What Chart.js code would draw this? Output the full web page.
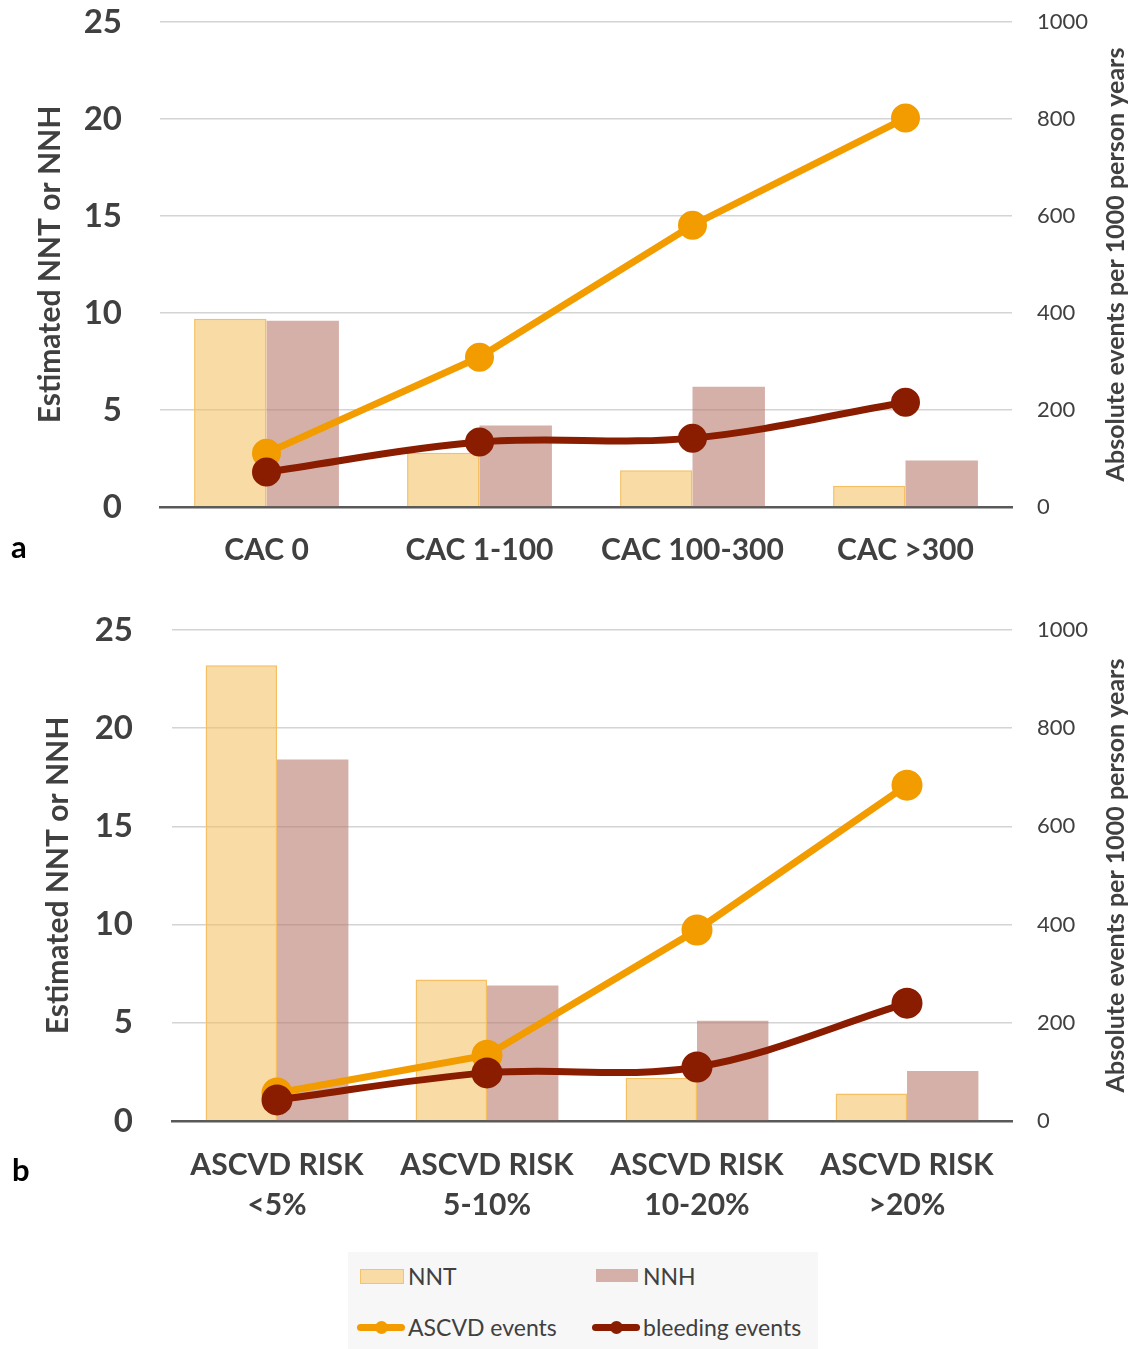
<!DOCTYPE html>
<html>
<head>
<meta charset="utf-8">
<script src="https://cdn.jsdelivr.net/npm/chart.js@4.4.1/dist/chart.umd.min.js"></script>
<style>
    body { margin: 0; background: #fff; font-family: Lato, sans-serif; }
    .panel { position: absolute; left: 0; }
    .tag { position: absolute; font: bold 31px Lato, sans-serif; color: #000; }
    #legend { position: absolute; left: 348px; top: 1252px; width: 470px; height: 97px; background: #f7f7f7; }
    .item { position: absolute; font-size: 23px; color: #404040; line-height: 24px; }
    .swatch { position: absolute; height: 13px; width: 42px; }
    .lmark { position: absolute; width: 48px; height: 7px; border-radius: 4px; }
    .lmark i { position: absolute; left: 18px; top: -3px; width: 13px; height: 13px; border-radius: 50%; }
</style>
</head>
<body>
<div class="panel" style="top:0"><canvas id="chartA" width="1142" height="590"></canvas></div>
<div class="panel" style="top:590px"><canvas id="chartB" width="1142" height="660"></canvas></div>
<div class="tag" style="left:11px; top:527px">a</div>
<div class="tag" style="left:12px; top:1150px">b</div>

<div id="legend">
    <div class="swatch" style="left:12px; top:17px; background:#f9dca5; border:1.5px solid #f4c36a;"></div>
    <div class="item" style="left:60px; top:12px">NNT</div>
    <div class="swatch" style="left:248px; top:17px; background:#d5b0a8;"></div>
    <div class="item" style="left:295px; top:12px">NNH</div>
    <div class="lmark" style="left:9px; top:72px; background:#f29c00;"><i style="background:#f29c00"></i></div>
    <div class="item" style="left:60px; top:63px">ASCVD events</div>
    <div class="lmark" style="left:244px; top:72px; background:#8a1c00;"><i style="background:#8a1c00"></i></div>
    <div class="item" style="left:295px; top:63px">bleeding events</div>
</div>

<script>
// panel a: coronary artery calcium groups
var cacLabels = ["CAC 0", "CAC 1-100", "CAC 100-300", "CAC >300"];
var cacNNT = [9.7, 2.8, 1.9, 1.1];
var cacNNH = [9.6, 4.2, 6.2, 2.4];
var cacAscvd = [111, 309, 581, 802];
var cacBleeding = [72, 134, 142, 216];

// panel b: ASCVD risk groups
var riskLabels = [["ASCVD RISK", "<5%"], ["ASCVD RISK", "5-10%"], ["ASCVD RISK", "10-20%"], ["ASCVD RISK", ">20%"]];
var riskNNT = [23.2, 7.2, 2.2, 1.4];
var riskNNH = [18.4, 6.9, 5.1, 2.55];
var riskAscvd = [57, 134, 389, 684];
var riskBleeding = [43, 98, 110, 240];

var leftTicks = [0, 5, 10, 15, 20, 25];
var rightTicks = [0, 200, 400, 600, 800, 1000];

var TEXT = "#404040";
var ORANGE = "#f29c00";
var DARKRED = "#8a1c00";

Chart.defaults.font.family = "Lato, sans-serif";
Chart.defaults.color = TEXT;

// the right axis title reads bottom-to-top, so it is drawn here
var rightTitle = {
    id: "rightTitle",
    afterDraw: function (chart) {
        var ctx = chart.ctx;
        var area = chart.chartArea;
        ctx.save();
        ctx.translate(1116, (area.top + area.bottom) / 2);
        ctx.rotate(-Math.PI / 2);
        ctx.font = "bold 25px Lato, sans-serif";
        ctx.fillStyle = TEXT;
        ctx.textAlign = "center";
        ctx.textBaseline = "middle";
        ctx.fillText("Absolute events per 1000 person years", 0, 0);
        ctx.restore();
    }
};

function makeChart(canvasId, labels, nnt, nnh, ascvd, bleeding, geo) {
    var canvas = document.getElementById(canvasId);

    return new Chart(canvas, {
        type: "bar",
        data: {
            labels: labels,
            datasets: [
                {
                    type: "line", label: "bleeding events", data: bleeding, yAxisID: "y1", order: 0,
                    borderColor: DARKRED, backgroundColor: DARKRED, borderWidth: 7,
                    pointRadius: geo.dot, pointHoverRadius: geo.dot, tension: 0.35, borderCapStyle: "round"
                },
                {
                    type: "line", label: "ASCVD events", data: ascvd, yAxisID: "y1", order: 1,
                    borderColor: ORANGE, backgroundColor: ORANGE, borderWidth: 7,
                    pointRadius: geo.dot, pointHoverRadius: geo.dot, tension: 0, borderCapStyle: "round"
                },
                {
                    label: "NNT", data: nnt, yAxisID: "y", order: 2,
                    backgroundColor: "rgba(244,191,91,0.55)", borderColor: "#f4c063", borderWidth: 1.5,
                    categoryPercentage: 0.68, barPercentage: 1
                },
                {
                    label: "NNH", data: nnh, yAxisID: "y", order: 3,
                    backgroundColor: "rgba(185,123,110,0.6)", borderWidth: 0,
                    categoryPercentage: 0.68, barPercentage: 1
                }
            ]
        },
        options: {
            responsive: false,
            animation: false,
            devicePixelRatio: 1,
            layout: { padding: { top: geo.top, left: 0, right: 0, bottom: 0 } },
            plugins: { legend: { display: false }, tooltip: { enabled: false } },
            scales: {
                x: {
                    grid: { display: false, drawTicks: false },
                    border: { display: true, color: "#595959", width: 2.5 },
                    ticks: { padding: geo.xPad, font: { size: 30, weight: "bold", lineHeight: 1.33 }, color: TEXT },
                    afterFit: function (scale) { scale.height = geo.xHeight; }
                },
                y: {
                    position: "left", min: 0, max: 25,
                    afterBuildTicks: function (scale) { scale.ticks = leftTicks.map(function (v) { return { value: v }; }); },
                    grid: {
                        drawTicks: false, lineWidth: 1.5,
                        color: function (c) { return c.tick && c.tick.value === 0 ? "#595959" : "#d4d4d4"; }
                    },
                    border: { display: false },
                    ticks: { padding: geo.lPad, font: { size: 33, weight: "bold" }, color: TEXT },
                    title: {
                        display: true, text: "Estimated NNT or NNH", color: TEXT,
                        font: { size: 30, weight: "bold" }, padding: { top: geo.titlePad, bottom: 0 }
                    },
                    afterFit: function (scale) {
                        scale.width = geo.left;
                        scale.paddingTop = 0;
                        scale.paddingBottom = 0;
                    }
                },
                y1: {
                    position: "right", min: 0, max: 1000,
                    afterBuildTicks: function (scale) { scale.ticks = rightTicks.map(function (v) { return { value: v }; }); },
                    grid: { display: false, drawTicks: false },
                    border: { display: false },
                    ticks: {
                        padding: 25, font: { size: 22 }, color: TEXT,
                        callback: function (value) { return String(value); }
                    },
                    afterFit: function (scale) {
                        scale.width = 130;
                        scale.paddingTop = 0;
                        scale.paddingBottom = 0;
                    }
                }
            }
        },
        plugins: [rightTitle]
    });
}

makeChart("chartA", cacLabels, cacNNT, cacNNH, cacAscvd, cacBleeding,
    { top: 22, left: 160, xHeight: 83, xPad: 23, lPad: 38, titlePad: 32, dot: 11 });
makeChart("chartB", riskLabels, riskNNT, riskNNH, riskAscvd, riskBleeding,
    { top: 40, left: 172, xHeight: 129, xPad: 24, lPad: 39, titlePad: 40, dot: 12 });
</script>
</body>
</html>
